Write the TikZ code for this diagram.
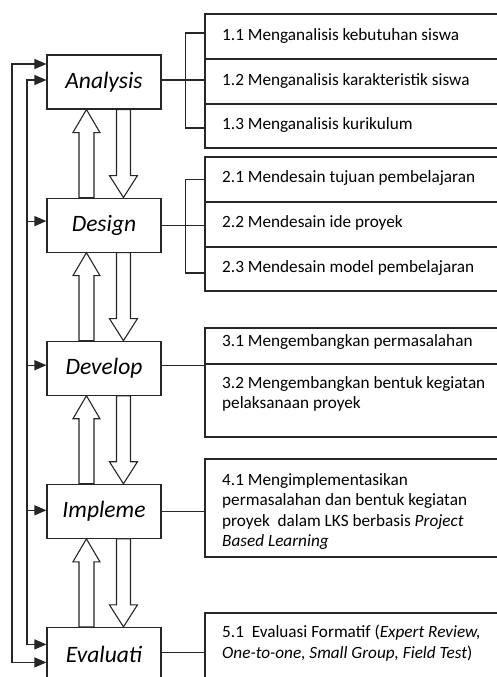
\documentclass[tikz,border=0pt]{standalone}
\usepackage{fontspec}
\setmainfont{Carlito}
\usepackage{tikz}
\usetikzlibrary{arrows.meta,calc,positioning}

\tikzset{
  stage/.style={draw=black!85, line width=1.1pt, minimum width=114pt, minimum height=54pt, inner sep=0pt, font=\fontsize{23.5}{26}\selectfont\itshape},
  row/.style={draw=black!85, line width=1.1pt, minimum width=305pt, inner sep=0pt},
  item/.style={anchor=north west, inner sep=0pt, align=left, font=\fontsize{17.2}{20.5}\selectfont},
  link/.style={draw=black!85, line width=1.1pt},
  tip/.tip={Triangle[length=12pt,width=10pt]},
  fat/.style={draw=black!85, line width=1.1pt, fill=white, line join=miter},
}

% hollow block arrows between two stages
\newcommand{\fatup}[1]{\draw[fat] ($(#1.north west)+(32.5,0)$) -- ++(0,-65) -- ++(-6,0) -- ++(13.5,-23) -- ++(13.5,23) -- ++(-6,0) -- ++(0,65) -- cycle;}
\newcommand{\fatdown}[1]{\draw[fat] ($(#1.south west)+(70,0)$) -- ++(0,66) -- ++(-7,0) -- ++(14,22) -- ++(14,-22) -- ++(-7,0) -- ++(0,-66) -- cycle;}

\begin{document}
\begin{tikzpicture}[x=1pt,y=-1pt]
\useasboundingbox (0,0) rectangle (497,677);
\clip (0,0) rectangle (497,677);

% stages
\node[stage] (analysis) at (104,82) {Analysis};
\node[stage, below=88pt of analysis] (design) {Design};
\node[stage, below=88pt of design] (develop) {Develop};
\node[stage, below=88pt of develop] (implement) {Impleme};
\node[stage, below=88pt of implement] (evaluate) {Evaluati};

\fatup{design} \fatdown{analysis}
\fatup{develop} \fatdown{design}
\fatup{implement} \fatdown{develop}
\fatup{evaluate} \fatdown{implement}

% feedback lines
\coordinate (outer) at (12,0);
\coordinate (inner) at (27,0);
\draw[link, tip-tip] ([yshift=18pt]analysis.west) -- ([yshift=18pt]analysis.west -| outer) -- ([yshift=-8pt]evaluate.west -| outer) -- ([yshift=-8pt]evaluate.west);
\draw[link, tip-tip] ([yshift=2pt]analysis.west) -- ([yshift=2pt]analysis.west -| inner) -- ([yshift=10pt]evaluate.west -| inner) -- ([yshift=10pt]evaluate.west);
\draw[link, -tip] ([yshift=4pt]design.west -| inner) -- ([yshift=4pt]design.west);
\draw[link, -tip] ([yshift=3pt]develop.west -| inner) -- ([yshift=3pt]develop.west);
\draw[link, -tip] ([yshift=1pt]implement.west -| inner) -- ([yshift=1pt]implement.west);

% detail rows
\node[row, minimum height=45pt] (r11) at (357.5,36.5) {};
\node[row, minimum height=45pt] (r12) at (357.5,81.5) {};
\node[row, minimum height=44pt] (r13) at (357.5,126) {};
\node[row, minimum height=45pt] (r21) at (357.5,179.5) {};
\node[row, minimum height=45pt] (r22) at (357.5,224.5) {};
\node[row, minimum height=44pt] (r23) at (357.5,269) {};
\node[row, minimum height=36pt] (r31) at (357.5,346) {};
\node[row, minimum height=73pt] (r32) at (357.5,400.5) {};
\node[row, minimum height=98pt] (r41) at (357.5,508) {};
\node[row, minimum height=90pt] (r51) at (357.5,658) {};

\node[item] (t11) at (222,28) {1.1 Menganalisis kebutuhan siswa};
\node[item] (t12) at (222,73) {1.2 Menganalisis karakteristik siswa};
\node[item] (t13) at (222,117) {1.3 Menganalisis kurikulum};
\node[item] (t21) at (222,170) {2.1 Mendesain tujuan pembelajaran};
\node[item] (t22) at (222,215) {2.2 Mendesain ide proyek};
\node[item] (t23) at (222,260) {2.3 Mendesain model pembelajaran};
\node[item] (t31) at (222,334) {3.1 Mengembangkan permasalahan};
\node[item] (t32) at (222,376) {3.2 Mengembangkan bentuk kegiatan\\pelaksanaan proyek};
\node[item] (t41) at (222,473) {4.1 Mengimplementasikan\\permasalahan dan bentuk kegiatan\\proyek\ \ dalam LKS berbasis \textit{Project}\\\textit{Based Learning}};
\node[item] (t51) at (222,625) {5.1\ \ Evaluasi Formatif (\textit{Expert Review,}\\\textit{One-to-one, Small Group, Field Test})};

% links to the details
\draw[link] ([yshift=2pt]analysis.east) -- ([yshift=2pt]analysis.east -| r12.west);
\draw[link] ([yshift=3.5pt]r11.west) -- ++(-19,0) |- ([yshift=-2pt]r13.west);
\draw[link] (design.east) -- (design.east -| r22.west);
\draw[link] (r21.west) -- ++(-19,0) |- ([yshift=-4pt]r23.west);
\draw[link] ([yshift=2.5pt]develop.east) -- ([yshift=2.5pt]develop.east -| r32.west);
\draw[link] (implement.east) -- (implement.east -| r41.west);
\draw[link] ([yshift=2pt]evaluate.east) -- ([yshift=2pt]evaluate.east -| r51.west);
\end{tikzpicture}
\end{document}
